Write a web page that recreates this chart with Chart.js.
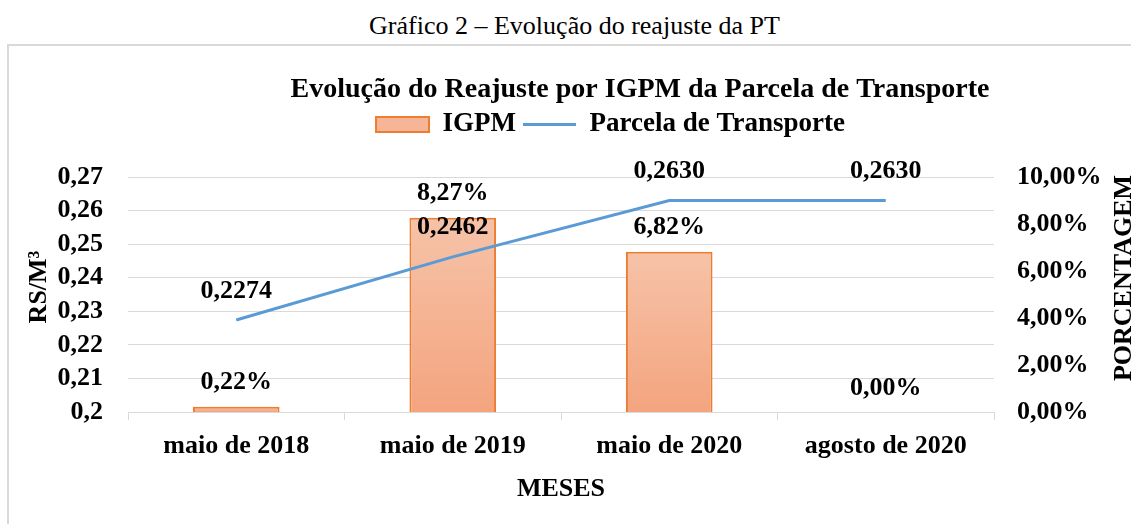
<!DOCTYPE html>
<html>
<head>
<meta charset="utf-8">
<script src="https://cdn.jsdelivr.net/npm/chart.js@4.4.1/dist/chart.umd.min.js"></script>
<style>
  html, body { margin: 0; padding: 0; background: #fff; width: 1131px; height: 524px; overflow: hidden; }
  #caption { position: absolute; left: 9px; top: 13px; width: 1131px; text-align: center;
    font-family: 'Liberation Serif', 'Times New Roman', serif; font-size: 26px; line-height: 26px; color: #000; }
  #frame { position: absolute; left: 7px; top: 44px; width: 1150px; height: 520px; border: 2px solid #D9D9D9; box-sizing: border-box; }
  #c { position: absolute; left: 0; top: 0; }
</style>
</head>
<body>
<div id="caption">Gráfico 2 – Evolução do reajuste da PT</div>
<div id="frame"></div>
<canvas id="c" width="1131" height="524"></canvas>
<script>
// ---- data ----
const categories = ['maio de 2018', 'maio de 2019', 'maio de 2020', 'agosto de 2020'];
const igpmValues = [0.22, 8.27, 6.82, 0.00];            // %
const transporteValues = [0.2274, 0.2462, 0.2630, 0.2630]; // R$/m³
const leftTicks = [0.20, 0.21, 0.22, 0.23, 0.24, 0.25, 0.26, 0.27];
const rightTicks = [0, 2, 4, 6, 8, 10];
const chartTitle = 'Evolução do Reajuste por IGPM da Parcela de Transporte';
const leftTitle = 'RS/M³';
const rightTitle = 'PORCENTAGEM';
const xTitle = 'MESES';
const seriesNames = ['IGPM', 'Parcela de Transporte'];

const FAMILY = "'Liberation Serif', 'Times New Roman', serif";
const fmtPct = v => v.toFixed(2).replace('.', ',') + '%';
const fmtRs = v => v.toFixed(4).replace('.', ',');
const fmtLeft = v => String(+v.toFixed(2)).replace('.', ',');

const decor = {
  id: 'decor',
  afterLayout(chart) {
    // shift the legend horizontally to sit where the reference has it
    if (chart.legend) { chart.legend.left += 45; chart.legend.right += 45; }
  },
  afterDatasetsDraw(chart) {
    const ctx = chart.ctx;
    ctx.save();
    ctx.fillStyle = '#000';
    ctx.font = 'bold 26px ' + FAMILY;
    ctx.textAlign = 'center';
    ctx.textBaseline = 'alphabetic';
    chart.getDatasetMeta(0).data.forEach((el, i) => {
      ctx.fillText(fmtPct(igpmValues[i]), el.x, el.y - 26.5 + 9);
    });
    chart.getDatasetMeta(1).data.forEach((el, i) => {
      ctx.fillText(fmtRs(transporteValues[i]), el.x, el.y - 31.5 + 9);
    });
    ctx.restore();
  },
  afterDraw(chart) {
    const ctx = chart.ctx;
    ctx.save();
    ctx.fillStyle = '#000';
    ctx.textAlign = 'center';
    ctx.textBaseline = 'alphabetic';
    ctx.font = 'bold 28px ' + FAMILY;
    ctx.fillText(chartTitle, 640, 97);
    ctx.font = 'bold 26px ' + FAMILY;
    ctx.save();
    ctx.translate(46, 287);
    ctx.rotate(-Math.PI / 2);
    ctx.fillText(leftTitle, 0, 0);
    ctx.restore();
    ctx.save();
    ctx.translate(1131, 278);
    ctx.rotate(-Math.PI / 2);
    ctx.fillText(rightTitle, 0, 0);
    ctx.restore();
    ctx.restore();
  }
};

const barGradient = (c) => {
  const chart = c.chart;
  if (!chart.chartArea || c.type !== 'data') return '#F5B596';
  const s = chart.scales.y1;
  const top = s.getPixelForValue(c.raw);
  const bottom = s.getPixelForValue(0);
  if (!isFinite(top) || bottom - top < 1) return '#F5B596';
  const g = chart.ctx.createLinearGradient(0, top, 0, bottom);
  g.addColorStop(0, '#F6C3A8');
  g.addColorStop(1, '#F4A47F');
  return g;
};

new Chart(document.getElementById('c'), {
  data: {
    labels: categories,
    datasets: [
      {
        type: 'bar', label: seriesNames[0], data: igpmValues, yAxisID: 'y1', order: 2,
        backgroundColor: barGradient, borderColor: '#ED7D31', borderWidth: 2,
        barPercentage: 0.4, categoryPercentage: 1.0
      },
      {
        type: 'line', label: seriesNames[1], data: transporteValues, yAxisID: 'y', order: 1,
        borderColor: '#5B9BD5', borderWidth: 3, pointRadius: 0, tension: 0, fill: false
      }
    ]
  },
  options: {
    responsive: false,
    animation: false,
    devicePixelRatio: 1,
    layout: { padding: { top: 104, left: 0, right: 0, bottom: 0 } },
    plugins: {
      tooltip: { enabled: false },
      title: { display: false },
      subtitle: { display: true, text: '', position: 'top', weight: 500,
        font: { size: 10, lineHeight: 1 }, padding: { top: 0, bottom: 19 } },
      legend: {
        display: true, position: 'top',
        labels: {
          color: '#000', font: { family: FAMILY, size: 27, weight: 'bold' },
          usePointStyle: true, pointStyleWidth: 53, boxHeight: 15, padding: 7,
          generateLabels: () => [
            { text: seriesNames[0], fillStyle: '#F5B596', strokeStyle: '#ED7D31', lineWidth: 2,
              pointStyle: 'rect', datasetIndex: 0, hidden: false, fontColor: '#000' },
            { text: seriesNames[1], fillStyle: '#5B9BD5', strokeStyle: '#5B9BD5', lineWidth: 3,
              pointStyle: 'line', datasetIndex: 1, hidden: false, fontColor: '#000' }
          ]
        }
      }
    },
    scales: {
      x: {
        type: 'category', offset: true,
        grid: { offset: true, drawOnChartArea: false, drawTicks: true, tickLength: 8, color: '#D9D9D9', lineWidth: 1 },
        border: { display: true, color: '#D9D9D9', width: 1 },
        ticks: { color: '#000', font: { family: FAMILY, size: 26, weight: 'bold' }, padding: 11, maxRotation: 0, autoSkip: false },
        title: { display: true, text: xTitle, color: '#000', font: { family: FAMILY, size: 26, weight: 'bold' }, padding: { top: 0, bottom: 19 } },
        afterFit: s => { s.height = 112; }
      },
      y: {
        position: 'left', min: 0.2, max: 0.27,
        afterBuildTicks: s => { s.ticks = leftTicks.map(v => ({ value: v })); },
        ticks: { color: '#000', font: { family: FAMILY, size: 26, weight: 'bold' }, padding: 25, autoSkip: false, callback: v => fmtLeft(v) },
        grid: { color: '#D9D9D9', lineWidth: 1, drawTicks: false },
        border: { display: false },
        afterFit: s => { s.width = 128; }
      },
      y1: {
        position: 'right', min: 0, max: 10,
        afterBuildTicks: s => { s.ticks = rightTicks.map(v => ({ value: v })); },
        ticks: { color: '#000', font: { family: FAMILY, size: 26, weight: 'bold' }, padding: 23, autoSkip: false, callback: v => fmtPct(v) },
        grid: { display: false, drawOnChartArea: false, drawTicks: false },
        border: { display: false },
        afterFit: s => { s.width = 137; }
      }
    }
  },
  plugins: [decor]
});
</script>
</body>
</html>
